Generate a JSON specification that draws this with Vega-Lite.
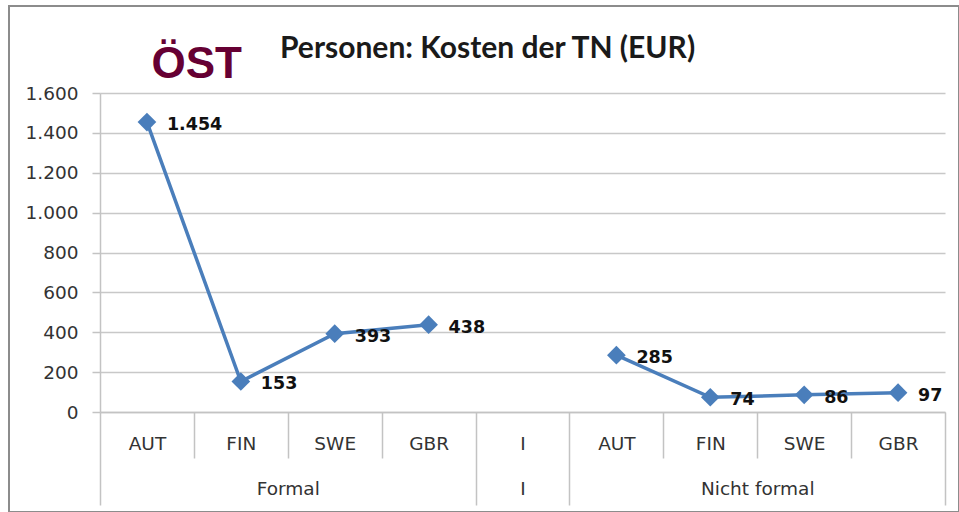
{
  "$schema": "https://vega.github.io/schema/vega-lite/v6.json",
  "width": 950,
  "height": 506,
  "autosize": {"type": "none"},
  "padding": {"left": 9, "top": 6, "right": 0, "bottom": 0},
  "background": "white",
  "config": {
    "view": {"stroke": "#8c8c8c", "strokeWidth": 2},
    "locale": {"number": {"decimal": ",", "thousands": ".", "grouping": [3], "currency": ["", " €"]}}
  },
  "title": {
    "text": "Personen: Kosten der TN (EUR)",
    "font": "Lato",
    "fontSize": 30,
    "fontWeight": "bold",
    "color": "#1a1a1a",
    "anchor": "start",
    "frame": "group",
    "dx": 271,
    "offset": -82,
    "baseline": "alphabetic"
  },
  "data": {
    "values": [
      {"pos": 0.5, "gruppe": "Formal", "land": "AUT", "kosten": 1454},
      {"pos": 1.5, "gruppe": "Formal", "land": "FIN", "kosten": 153},
      {"pos": 2.5, "gruppe": "Formal", "land": "SWE", "kosten": 393},
      {"pos": 3.5, "gruppe": "Formal", "land": "GBR", "kosten": 438},
      {"pos": 4.5, "gruppe": "I", "land": "I", "kosten": null},
      {"pos": 5.5, "gruppe": "Nicht formal", "land": "AUT", "kosten": 285},
      {"pos": 6.5, "gruppe": "Nicht formal", "land": "FIN", "kosten": 74},
      {"pos": 7.5, "gruppe": "Nicht formal", "land": "SWE", "kosten": 86},
      {"pos": 8.5, "gruppe": "Nicht formal", "land": "GBR", "kosten": 97}
    ]
  },
  "encoding": {
    "x": {
      "field": "pos",
      "type": "quantitative",
      "scale": {"domain": [0, 9], "range": [91, 936], "nice": false, "zero": false},
      "axis": {
        "title": null,
        "grid": false,
        "offset": -100,
        "values": [0, 0.5, 1, 1.5, 2, 2.5, 3, 3.5, 4, 4.5, 4.5001, 5, 5.5, 6, 6.5, 7, 7.5, 8, 8.5, 9],
        "labelExpr": "datum.value == 2 ? 'Formal' : datum.value == 7 ? 'Nicht formal' : (datum.value > 4.50005 && datum.value < 4.6) ? 'I' : (datum.value % 1 == 0.5) ? ['AUT','FIN','SWE','GBR','I','AUT','FIN','SWE','GBR'][floor(datum.value)] : ''",
        "domainColor": "#c3c3c3",
        "domainWidth": 1.5,
        "tickColor": "#c3c3c3",
        "tickWidth": 1.5,
        "tickSize": {"condition": {"test": "datum.value == 0 || datum.value == 4 || datum.value == 5 || datum.value == 9", "value": 93}, "value": 46},
        "tickOpacity": {"condition": {"test": "datum.value % 1 != 0", "value": 0}, "value": 1},
        "labelPadding": {"condition": {"test": "datum.value == 2 || datum.value == 7 || (datum.value > 4.50005 && datum.value < 4.6)", "value": 21}, "value": -24},
        "labelFont": "DejaVu Sans",
        "labelFontSize": 18.5,
        "labelColor": "#333333",
        "labelAngle": 0,
        "labelOverlap": false,
        "labelBound": false,
        "labelFlush": false
      }
    },
    "y": {
      "field": "kosten",
      "type": "quantitative",
      "scale": {"domain": [0, 1600], "range": [406, 87], "nice": false},
      "axis": {
        "offset": -91,
        "values": [0, 200, 400, 600, 800, 1000, 1200, 1400, 1600],
        "format": ",d",
        "title": "ÖST",
        "titleAngle": 0,
        "titleAlign": "left",
        "titleBaseline": "alphabetic",
        "titleX": 51,
        "titleY": 71,
        "titleFont": "Liberation Sans",
        "titleFontSize": 44,
        "titleFontWeight": "bold",
        "titleColor": "#660033",
        "grid": true,
        "gridColor": "#c8c8c8",
        "gridWidth": 1.5,
        "domainColor": "#c3c3c3",
        "domainWidth": 1.5,
        "tickColor": "#c3c3c3",
        "tickWidth": 1.5,
        "tickSize": 8,
        "labelPadding": 14,
        "labelFont": "DejaVu Sans",
        "labelFontSize": 18.5,
        "labelColor": "#333333"
      }
    }
  },
  "layer": [
    {
      "mark": {"type": "line", "color": "#4a7ebb", "strokeWidth": 3.5},
      "encoding": {"detail": {"field": "gruppe"}}
    },
    {
      "mark": {"type": "point", "shape": "diamond", "filled": true, "size": 350, "color": "#4a7ebb", "opacity": 1}
    },
    {
      "mark": {"type": "text", "align": "left", "baseline": "middle", "dx": 20, "dy": 3, "font": "DejaVu Sans", "fontWeight": "bold", "fontSize": 17.5, "color": "#111111"},
      "encoding": {"text": {"field": "kosten", "type": "quantitative", "format": ",d"}}
    }
  ]
}
